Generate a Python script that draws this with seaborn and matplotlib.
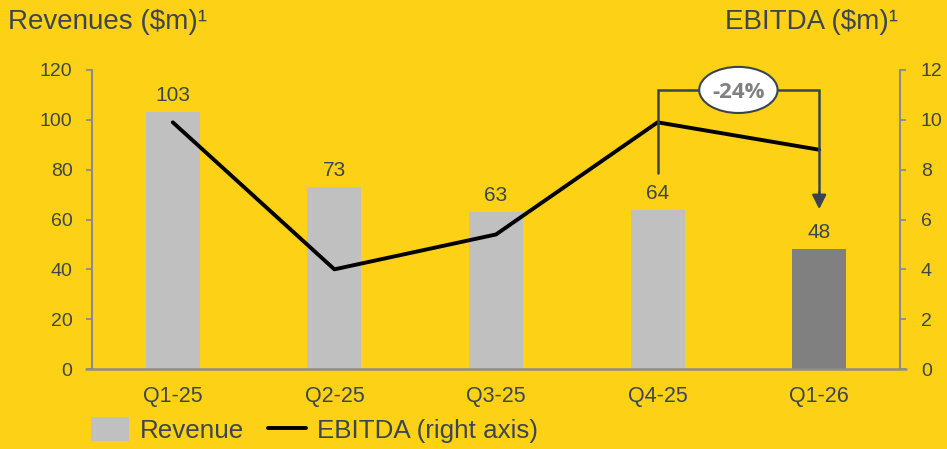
import matplotlib
matplotlib.use("Agg")
import matplotlib.pyplot as plt
from matplotlib.patches import Patch, Ellipse
from matplotlib.lines import Line2D
import seaborn as sns
import pandas as pd

quarters = ["Q1-25", "Q2-25", "Q3-25", "Q4-25", "Q1-26"]
revenue = [103, 73, 63, 64, 48]
ebitda = [9.9, 4.0, 5.4, 9.9, 8.8]
bar_colors = ["#C0C0C0", "#C0C0C0", "#C0C0C0", "#C0C0C0", "#808080"]
change_label = "-24%"

BG = "#FDD116"
TXT = "#3D4650"
AXC = "#8C8C8C"

sns.set_theme(style="white")
plt.rcParams["font.family"] = ["Liberation Sans", "DejaVu Sans"]

df = pd.DataFrame({"quarter": quarters, "revenue": revenue, "ebitda": ebitda})

fig = plt.figure(figsize=(9.47, 4.49), dpi=100, facecolor=BG)
ax = fig.add_axes([92 / 947, 1 - 369 / 449, 808 / 947, 299 / 449])
ax.set_facecolor(BG)

sns.barplot(data=df, x="quarter", y="revenue", hue="quarter",
            palette=bar_colors, width=0.335, legend=False, ax=ax,
            saturation=1, edgecolor="none", linewidth=0)
ax.set_xlim(-0.5, len(quarters) - 0.5)
ax.set_ylim(0, 120)
ax.set_yticks(range(0, 121, 20))
for c in ax.containers:
    ax.bar_label(c, fmt="%d", padding=5, fontsize=15, color=TXT)

ax2 = ax.twinx()
sns.lineplot(x=list(range(len(quarters))), y=df["ebitda"], color="black",
             linewidth=2.8, ax=ax2)
ax2.set_ylim(0, 12)
ax2.set_yticks(range(0, 13, 2))
ax2.set_xlim(-0.5, len(quarters) - 0.5)

for a in (ax, ax2):
    a.set_xlabel("")
    a.set_ylabel("")
    for s in a.spines.values():
        s.set_visible(False)
ax.spines["left"].set_visible(True)
ax.spines["left"].set_color(AXC)
ax.spines["left"].set_linewidth(1.5)
ax2.spines["right"].set_visible(True)
ax2.spines["right"].set_color(AXC)
ax2.spines["right"].set_linewidth(1.5)
# baseline extends slightly past both vertical axes
ax.plot([-0.008, 1.008], [0, 0], transform=ax.transAxes, color=AXC,
        lw=1.8, clip_on=False, zorder=5)

ax.tick_params(axis="y", left=True, length=4.5, width=1.3, color=AXC,
               labelsize=14, labelcolor=TXT, pad=9.5)
ax2.tick_params(axis="y", right=True, length=4.5, width=1.3, color=AXC,
                labelsize=14, labelcolor=TXT, pad=10.5)
ax.tick_params(axis="x", bottom=False, labelsize=15.5, labelcolor=TXT, pad=6)

# change bracket from Q4-25 to Q1-26
x0, x1 = 3, 4
top = 11.18
ax2.plot([x0, x0, x1, x1], [7.85, top, top, 7.0], color="#3A4450",
         lw=1.8, solid_joinstyle="miter", zorder=6)
ax2.annotate("", xy=(x1, 6.3), xytext=(x1, 7.2),
             arrowprops=dict(arrowstyle="-|>,head_width=0.35,head_length=0.7",
                             color="#3A4450", lw=1.8), zorder=6)
ell = Ellipse((3.5, 11.2), width=0.485, height=1.85, facecolor="white",
              edgecolor="#3A4450", lw=1.5, zorder=7, clip_on=False)
ax2.add_patch(ell)
ax2.text(3.5, 11.1, change_label, ha="center", va="center", fontsize=16,
         fontweight="bold", color="#808080", zorder=8,
         family=["Open Sans", "DejaVu Sans"])

fig.text(8 / 947, 1 - 9 / 449, "Revenues ($m)\u00b9", ha="left", va="top",
         fontsize=20, color=TXT)
fig.text(898 / 947, 1 - 9 / 449, "EBITDA ($m)\u00b9", ha="right", va="top",
         fontsize=20, color=TXT)

handles = [Patch(facecolor="#C0C0C0", edgecolor="none"),
           Line2D([0], [0], color="black", lw=2.8)]
fig.legend(handles, ["Revenue", "EBITDA (right axis)"], loc="center left",
           bbox_to_anchor=(91 / 947, 1 - 430 / 449), ncol=2, frameon=False,
           fontsize=18.7, labelcolor=TXT, handlelength=1.45, handleheight=1.05,
           handletextpad=0.42, columnspacing=0.95, borderaxespad=0,
           borderpad=0)

fig.savefig("out.png", dpi=100, facecolor=BG)
